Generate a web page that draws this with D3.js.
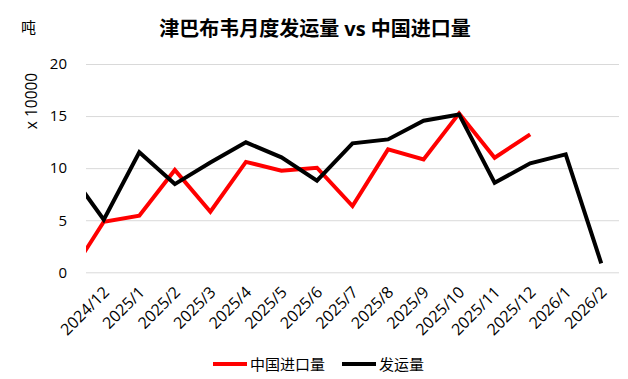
<!DOCTYPE html>
<html><head><meta charset="utf-8">
<script src="https://cdn.jsdelivr.net/npm/d3@7"></script>
<style>
body{margin:0;background:#fff;}
text{font-family:"Open Sans","Noto Sans CJK SC",sans-serif;}
</style></head>
<body><svg id="c" width="628" height="379"></svg>
<script>
// data
const months = ["2024/12","2025/1","2025/2","2025/3","2025/4","2025/5","2025/6","2025/7","2025/8","2025/9","2025/10","2025/11","2025/12","2026/1","2026/2"];
// value for the month before the first label (2024/11), clipped at plot edge
const priorImport = -0.5;
const priorShipment = 9.8;
const chinaImport = [4.85,5.43,9.82,5.82,10.6,9.75,10.04,6.36,11.8,10.84,15.26,11.0,13.24,null,null];
const shipment   = [5.05,11.52,8.47,10.55,12.48,11.04,8.79,12.38,12.76,14.55,15.16,8.6,10.46,11.32,0.86];
const yTicks = [0,5,10,15,20];
const title = "津巴布韦月度发运量 vs 中国进口量";
const seriesNames = ["中国进口量","发运量"];
const colors = ["#ff0000","#000000"];

const svg = d3.select("#c");
const L=86,R=619,T=64,B=272.3;
const x = d3.scaleLinear().domain([-0.5, months.length-0.5]).range([L,R]);
const y = d3.scaleLinear().domain([0,20]).range([B,T]);

svg.append("defs").append("clipPath").attr("id","clip")
  .append("rect").attr("x",L).attr("y",0).attr("width",R-L).attr("height",379);

// grid
const yAxis = d3.axisLeft(y).tickValues(yTicks).tickSize(-(R-L)).tickPadding(19);
const gy = svg.append("g").attr("transform",`translate(${L},0)`).call(yAxis);
gy.select(".domain").remove();
gy.selectAll(".tick line").attr("stroke","#d9d9d9").attr("stroke-width",1);
gy.selectAll(".tick text").attr("font-size",15).attr("fill","#000").attr("text-anchor","end").attr("dx",0);

// x axis labels
const xAxis = d3.axisBottom(x).tickValues(d3.range(months.length)).tickFormat(i=>months[i]).tickSize(0);
const gx = svg.append("g").attr("transform",`translate(0,${B})`).call(xAxis);
gx.select(".domain").remove();
gx.selectAll(".tick text").attr("font-size",16).attr("fill","#000")
  .attr("text-anchor","end").attr("dy","0.35em").attr("y",0)
  .attr("transform","translate(2,17) rotate(-45)");

// lines
const line = d3.line().defined(d=>d.v!=null).x(d=>x(d.i)).y(d=>y(d.v));
const s1 = [{i:-1,v:priorImport}].concat(chinaImport.map((v,i)=>({i,v})));
const s2 = [{i:-1,v:priorShipment}].concat(shipment.map((v,i)=>({i,v})));
const g = svg.append("g").attr("clip-path","url(#clip)");
[s1,s2].forEach((s,k)=>{
  g.append("path").datum(s).attr("d",line).attr("fill","none")
   .attr("stroke",colors[k]).attr("stroke-width",4).attr("stroke-linejoin","miter");
});

// title
svg.append("text").attr("x",315).attr("y",35.5).attr("text-anchor","middle")
  .attr("font-size",20).attr("font-weight","bold").attr("fill","#000").text(title);
svg.append("text").attr("x",21).attr("y",33).attr("font-size",15).attr("fill","#000").text("吨");
svg.append("text").attr("transform","translate(37,101) rotate(-90)").attr("text-anchor","middle")
  .attr("font-size",15.5).attr("fill","#000").text("x 10000");

// legend
const leg = [{x:213},{x:342}];
seriesNames.forEach((n,k)=>{
  svg.append("line").attr("x1",leg[k].x).attr("x2",leg[k].x+34).attr("y1",364).attr("y2",364)
    .attr("stroke",colors[k]).attr("stroke-width",4);
  svg.append("text").attr("x",leg[k].x+37).attr("y",369.5).attr("font-size",15).attr("fill","#000").text(n);
});
</script></body></html>
